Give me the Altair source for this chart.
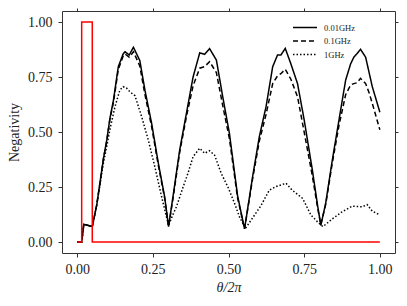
import altair as alt
import pandas as pd

# Red pulse
red_x = [0.0, 0.015, 0.015, 0.05, 0.05, 1.0]
red_y = [0.0, 0.0, 1.0, 1.0, 0.0, 0.0]

# 0.01GHz (solid)
s1_x = [0, 0.015, 0.022, 0.05, 0.065, 0.087, 0.098, 0.108, 0.12, 0.136, 0.152, 0.158, 0.172, 0.186,
        0.207, 0.224, 0.246, 0.268, 0.289, 0.302, 0.317, 0.339, 0.361, 0.383, 0.405, 0.421, 0.4375,
        0.46, 0.481, 0.503, 0.53, 0.553, 0.58, 0.602, 0.624, 0.646, 0.662, 0.673, 0.6875, 0.706,
        0.728, 0.75, 0.777, 0.795, 0.805, 0.821, 0.843, 0.865, 0.887, 0.9035, 0.914, 0.925, 0.936,
        0.953, 0.975, 1.0]
s1_y = [0, 0, 0.08, 0.07, 0.17, 0.38, 0.464, 0.56, 0.645, 0.797, 0.855, 0.865, 0.85, 0.885,
        0.825, 0.69, 0.54, 0.36, 0.206, 0.07, 0.21, 0.42, 0.585, 0.75, 0.86, 0.853, 0.879,
        0.827, 0.66, 0.494, 0.21, 0.06, 0.30, 0.48, 0.615, 0.797, 0.85, 0.85, 0.88, 0.81,
        0.72, 0.555, 0.327, 0.16, 0.075, 0.176, 0.373, 0.555, 0.736, 0.81, 0.84, 0.857, 0.876,
        0.84, 0.706, 0.59]

# 0.1GHz (dashed)
s2_x = [0, 0.015, 0.022, 0.05, 0.065, 0.087, 0.098, 0.108, 0.12, 0.136, 0.152, 0.158, 0.172, 0.186,
        0.207, 0.224, 0.246, 0.268, 0.289, 0.302, 0.317, 0.339, 0.361, 0.383, 0.405, 0.421, 0.4375,
        0.46, 0.481, 0.503, 0.53, 0.553, 0.58, 0.602, 0.624, 0.646, 0.662, 0.673, 0.6875, 0.706,
        0.728, 0.75, 0.777, 0.795, 0.805, 0.821, 0.843, 0.865, 0.887, 0.9035, 0.914, 0.925, 0.936,
        0.953, 0.965, 0.975, 1.0]
s2_y = [0, 0, 0.08, 0.07, 0.17, 0.38, 0.46, 0.555, 0.635, 0.785, 0.845, 0.855, 0.84, 0.865,
        0.80, 0.67, 0.525, 0.35, 0.2, 0.07, 0.2, 0.41, 0.57, 0.71, 0.79, 0.797, 0.82,
        0.77, 0.62, 0.47, 0.2, 0.06, 0.29, 0.46, 0.58, 0.72, 0.755, 0.765, 0.785, 0.74,
        0.66, 0.5, 0.3, 0.15, 0.08, 0.17, 0.36, 0.53, 0.67, 0.714, 0.72, 0.724, 0.744,
        0.72, 0.676, 0.63, 0.51]

# 1GHz (dotted)
s3_x = [0, 0.015, 0.022, 0.05, 0.065, 0.087, 0.1, 0.108, 0.125, 0.141, 0.152, 0.163, 0.174, 0.191,
        0.213, 0.235, 0.257, 0.279, 0.295, 0.302, 0.315, 0.328, 0.35, 0.366, 0.383, 0.405, 0.421,
        0.4375, 0.454, 0.476, 0.498, 0.52, 0.536, 0.556, 0.58, 0.607, 0.635, 0.657, 0.69, 0.71,
        0.745, 0.772, 0.795, 0.812, 0.843, 0.876, 0.909, 0.942, 0.958, 0.975, 1.0]
s3_y = [0, 0, 0.08, 0.07, 0.17, 0.36, 0.45, 0.51, 0.615, 0.69, 0.706, 0.70, 0.683, 0.665,
        0.57, 0.464, 0.34, 0.206, 0.115, 0.075, 0.12, 0.16, 0.25, 0.312, 0.388, 0.426, 0.403,
        0.415, 0.395, 0.312, 0.25, 0.176, 0.115, 0.062, 0.11, 0.165, 0.236, 0.252, 0.267, 0.236,
        0.198, 0.123, 0.09, 0.07, 0.105, 0.138, 0.163, 0.16, 0.17, 0.14, 0.123]

labels = ["0.01GHz", "0.1GHz", "1GHz"]

rows = []
for lab, xs, ys in zip(labels, [s1_x, s2_x, s3_x], [s1_y, s2_y, s3_y]):
    for i, (a, b) in enumerate(zip(xs, ys)):
        rows.append({"series": lab, "x": a, "y": b, "order": i})
df = pd.DataFrame(rows)
red_df = pd.DataFrame({"x": red_x, "y": red_y, "order": list(range(len(red_x)))})

FONT = "Liberation Serif"
ticks = [0, 0.25, 0.5, 0.75, 1.0]
xs = alt.Scale(domain=[-0.05, 1.05], nice=False, zero=False)
ys = alt.Scale(domain=[-0.05, 1.05], nice=False, zero=False)

lines = alt.Chart(df).mark_line(strokeWidth=1.5, color="black").encode(
    x=alt.X("x:Q", scale=xs, axis=alt.Axis(values=ticks, format=".2f", title="θ/2π",
                                          titleFontStyle="italic", titleFontWeight="normal",
                                          titleFontSize=14, labelFontSize=14, labelFont=FONT,
                                          titleFont=FONT, tickSize=4, labelPadding=5,
                                          titlePadding=4, domain=False, grid=False,
                                          tickColor="#333", labelColor="#222", titleColor="#222")),
    y=alt.Y("y:Q", scale=ys, axis=alt.Axis(values=ticks, format=".2f", title="Negativity",
                                          titleFontWeight="normal", titleFontSize=14,
                                          labelFontSize=14, labelFont=FONT, titleFont=FONT,
                                          tickSize=4, labelPadding=6, titlePadding=6,
                                          domain=False, grid=False, tickColor="#333",
                                          labelColor="#222", titleColor="#222")),
    strokeDash=alt.StrokeDash("series:N",
                              scale=alt.Scale(domain=labels, range=[[1, 0], [5, 3], [1.5, 2]]),
                              legend=alt.Legend(title=None, orient="none", legendX=237, legendY=10.5,
                                                symbolType="M-2.4,0H2.4", symbolSize=100,
                                                symbolStrokeWidth=1.5, symbolStrokeColor="black",
                                                labelFont=FONT, labelFontSize=8.5,
                                                labelColor="#222", rowPadding=2.5,
                                                labelOffset=13)),
    order="order:Q",
)

red = alt.Chart(red_df).mark_line(strokeWidth=1.5, color="#ff0000").encode(
    x=alt.X("x:Q", scale=xs, axis=alt.Axis(orient="top", values=ticks, labels=False, title=None,
                                          tickSize=3, domain=False, grid=False, tickColor="#333")),
    y=alt.Y("y:Q", scale=ys, axis=alt.Axis(orient="right", values=ticks, labels=False, title=None,
                                          tickSize=3, domain=False, grid=False, tickColor="#333")),
    order="order:Q",
)

chart = alt.layer(lines, red).resolve_axis(x="independent", y="independent").properties(
    width=333, height=242,
    autosize=alt.AutoSizeParams(type="none"),
    padding={"left": 54, "top": 3, "right": 4, "bottom": 45},
).configure_view(stroke="#333", strokeWidth=1)

chart.save("out.html", embed_options={"renderer": "svg", "actions": False})
